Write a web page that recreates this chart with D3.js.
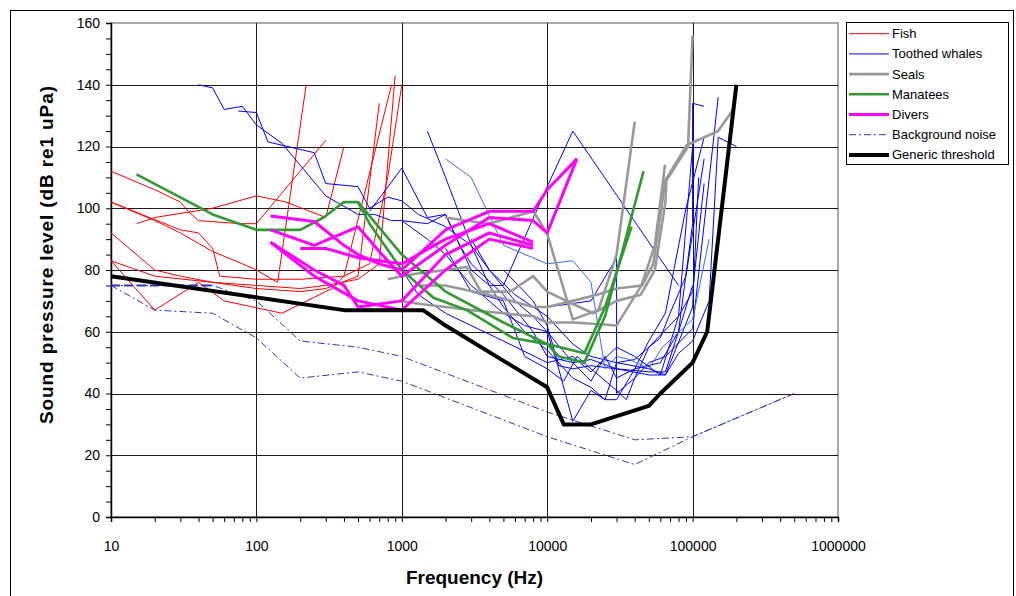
<!DOCTYPE html>
<html>
<head>
<meta charset="utf-8">
<script src="https://cdn.jsdelivr.net/npm/d3@7"></script>
<style>
  html, body { margin: 0; padding: 0; background: #fff; }
  svg { display: block; }
  text { font-family: "Liberation Sans", Arial, Helvetica, sans-serif; }
</style>
</head>
<body>
<svg id="chart" width="1016" height="596"></svg>
<script>
// Hearing thresholds in water: each series is a list of [frequency Hz, level dB re 1 uPa]

const fish = [
  [[10,112],[20,106],[30,102],[34,99],[40,96],[77,95],[100,95],[200,112],[300,122]],
  [[10,102],[30,93],[40,92],[50,87],[56,78],[100,77],[200,77],[400,78],[600,82],[800,110],[1000,140]],
  [[10,92],[20,80],[30,78],[50,76],[100,75],[200,74],[300,75],[500,77],[700,82],[900,143]],
  [[10,83],[20,78],[50,76],[100,74],[200,73],[300,74],[500,78],[700,134]],
  [[10,83],[20,67],[40,76],[60,70],[150,66],[330,74],[400,78],[850,140]],
  [[15,95],[20,97],[50,100],[100,104],[160,102],[300,97],[400,120]],
  [[10,102],[20,96],[30,92],[50,86],[80,82],[100,80],[140,76],[220,140]]
];

const toothedWhales = [
  [[40,140],[50,139],[60,132],[80,133],[100,127],[150,121],[300,104],[500,98],[650,98],[850,96],[1000,96],[1500,95],[2000,98],[2500,88],[3000,82],[5000,72],[8000,60],[10000,52],[15000,50],[20000,51],[30000,48],[50000,47],[65000,47],[80000,60],[100000,95],[100000,134],[120000,133]],
  [[75,131.5],[100,131],[120,121.5],[150,120.4],[250,118],[300,108],[500,107],[600,100],[800,103.6],[1000,102.4],[1300,98],[2000,94],[3000,88],[4000,80],[6000,72],[10000,65],[15000,56],[20000,52],[30000,50],[40000,51],[50000,55],[60000,58],[70000,66],[90000,78],[120000,116]],
  [[600,99],[1000,113],[1500,97],[2000,98],[3000,80],[4000,75],[5000,75],[10000,107],[15000,125],[80000,75]],
  [[1500,125],[2000,110],[3000,88],[4000,75],[5000,68],[7000,60],[10000,54],[15000,45],[20000,42],[25000,38],[30000,38],[40000,48],[60000,50],[80000,60],[100000,75]],
  [[1000,96],[1500,90],[2000,85],[3000,75],[5000,66],[7000,62],[10000,60],[12000,48],[15000,31],[20000,41],[25000,38],[30000,50],[50000,48],[65000,46],[80000,53],[100000,57],[130000,70],[150000,123],[200000,120]],
  [[1000,80],[1300,72],[2000,66],[3000,62],[5000,57],[10000,50],[15000,52],[20000,47],[30000,55],[40000,52],[60000,46],[80000,65],[100000,120]],
  [[3000,90],[4000,80],[6000,70],[8000,65],[10000,60],[15000,50],[20000,44],[25000,52],[30000,45],[40000,48],[50000,57],[65000,66],[90000,100],[120000,123]],
  [[2000,87],[3000,73],[5000,70],[7000,52],[10000,48],[13000,44],[16000,52],[20000,48],[30000,41],[35000,38],[40000,45],[50000,55],[80000,65],[100000,73],[120000,108]],
  [[10000,68],[20000,70],[30000,84],[30000,40],[40000,45],[50000,50],[65000,52],[100000,61],[150000,136]],
  [[5000,80],[8000,70],[10000,62],[12000,49],[15000,48],[20000,49],[30000,48],[50000,46],[65000,46],[100000,68],[110000,110]]
];

const toothedWhalesLight = [
  [[2000,116],[3000,110],[5000,88],[10000,82],[15000,83],[20000,76],[25000,48],[30000,52],[37000,51],[50000,48],[62000,55],[100000,64],[130000,90]]
];

const seals = [
  [[974,70],[1340,69],[2000,68],[3000,67],[5000,66],[8000,65],[10000,63],[15100,63],[22000,62.5],[30000,62],[44500,75],[55000,88],[64600,114]],
  [[1986,97],[3950,95],[8050,99],[9950,92],[15000,64],[22500,67],[30000,85],[40000,128]],
  [[800,77],[1000,78],[1340,79],[2000,80],[2800,81],[3500,73],[5500,73],[6000,74],[8000,78],[10000,73],[15000,69],[20700,66],[30000,70],[44000,72],[55000,80],[65000,102],[66000,109],[93000,120],[100000,156]],
  [[1340,75],[1986,75],[3950,72],[8050,68],[10000,68],[15000,70],[22000,72],[30000,74],[45000,75],[53700,82],[64900,109],[91300,120.5],[150000,125],[190000,132]]
];

const manatees = [
  [[15,111],[50,98],[100,93],[200,93],[290,97],[400,102],[500,102],[1000,85],[2000,73],[5000,63],[10000,56],[18000,53],[25000,68],[38000,94]],
  [[500,102],[600,95],[1000,80],[1650,71],[2800,67],[5800,58],[10000,56],[12000,52],[18000,50],[25000,65],[46000,112]]
];

const divers = [
  [[125,97.5],[250,95.7],[400,88],[500,85],[700,82],[1000,80],[2000,93],[4000,99],[8000,99],[10000,106],[16000,116]],
  [[125,93],[250,88],[500,94],[700,86],[1000,78],[2000,88],[4000,97],[8000,96],[10000,92],[16000,116]],
  [[125,89],[250,80],[400,75],[500,68],[1000,70],[2000,85],[4000,92],[8000,88]],
  [[200,87],[300,87],[500,84],[1000,82],[2000,90],[4000,95],[8000,89]],
  [[125,89],[250,78],[500,70],[1000,67],[2000,80],[4000,90],[8000,87]]
];

const backgroundNoise = [
  [[10,75],[50,75],[100,70],[200,57],[500,55],[1000,52],[10000,34],[40000,25],[100000,26],[500000,40]],
  [[10,75],[20,67],[50,66],[100,58],[200,45],[500,47],[1000,44],[10000,26],[40000,17],[100000,26],[500000,40]]
];
// low-frequency plateau of the noise floor, drawn heavier
const backgroundNoiseLow = [
  [[10,75],[50,75]]
];

const genericThreshold = [
  [[10,78],[400,67],[1400,67],[2000,62],[10000,42],[13000,30],[20000,30],[50000,36],[60000,40],[100000,50],[126000,60],[200000,140]]
];

const yTicks = [0,20,40,60,80,100,120,140,160];
const xTicks = [10,100,1000,10000,100000,1000000];
const legendLabels = ["Fish","Toothed whales","Seals","Manatees","Divers","Background noise","Generic threshold"];

// ---- drawing ----
const svg = d3.select("#chart");
const plot = {left: 111, right: 838, top: 23, bottom: 517};

const x = d3.scaleLog().domain([10, 1000000]).range([plot.left, plot.right]);
const y = d3.scaleLinear().domain([0, 160]).range([plot.bottom, plot.top]);

// outer frame
svg.append("rect").attr("x", 10.5).attr("y", 10.5).attr("width", 1003).attr("height", 600)
  .attr("fill", "none").attr("stroke", "#000").attr("stroke-width", 1);

// plot border
svg.append("rect").attr("x", plot.left).attr("y", plot.top)
  .attr("width", plot.right - plot.left).attr("height", plot.bottom - plot.top)
  .attr("fill", "none").attr("stroke", "#8c8c8c").attr("stroke-width", 1.5);

// gridlines
const grid = svg.append("g").attr("shape-rendering", "crispEdges");
grid.selectAll("line.h").data(yTicks.filter(d => d > 0 && d < 160)).join("line")
  .attr("x1", plot.left).attr("x2", plot.right)
  .attr("y1", d => Math.round(y(d)) + 0.5).attr("y2", d => Math.round(y(d)) + 0.5)
  .attr("stroke", "#1a1a1a").attr("stroke-width", 1);
grid.selectAll("line.v").data(xTicks.filter(d => d > 10 && d < 1000000)).join("line")
  .attr("y1", plot.top).attr("y2", plot.bottom)
  .attr("x1", d => Math.round(x(d)) + 0.5).attr("x2", d => Math.round(x(d)) + 0.5)
  .attr("stroke", "#1a1a1a").attr("stroke-width", 1);

// axes
const minorY = d3.range(0, 161, 5);
const yAxis = d3.axisLeft(y).tickValues(minorY).tickSize(5).tickPadding(6)
  .tickFormat(d => yTicks.includes(d) ? d : "");
const gy = svg.append("g").attr("transform", `translate(${plot.left},0)`).call(yAxis);

const minorX = [];
for (let e = 1; e < 6; e++) for (let m = 1; m < 10; m++) minorX.push(m * Math.pow(10, e));
minorX.push(1000000);
const xAxis = d3.axisBottom(x).tickValues(minorX).tickSize(5).tickPadding(19)
  .tickFormat(d => xTicks.includes(d) ? String(d) : "");
const gx = svg.append("g").attr("transform", `translate(0,${plot.bottom})`).call(xAxis);

[gx, gy].forEach(g => {
  g.select(".domain").attr("stroke", "#000").attr("stroke-width", 1.5);
  g.selectAll(".tick line").attr("stroke", "#000");
  g.selectAll(".tick text").attr("font-size", 14).attr("fill", "#000")
    .attr("font-family", '"Liberation Sans", Arial, sans-serif');
});

// axis titles
svg.append("text").attr("x", (plot.left + plot.right) / 2).attr("y", 584)
  .attr("text-anchor", "middle").attr("font-size", 19).attr("font-weight", "bold")
  .text("Frequency (Hz)");
svg.append("text").attr("transform", "translate(53,255) rotate(-90)")
  .attr("text-anchor", "middle").attr("font-size", 19).attr("font-weight", "bold")
  .attr("textLength", 338).attr("lengthAdjust", "spacing")
  .text("Sound pressure level (dB re1 uPa)");

// series
const line = d3.line().x(d => x(d[0])).y(d => y(d[1]));
const styles = {
  fish: {stroke: "#ff0000", width: 1},
  whale: {stroke: "#0000ff", width: 1},
  whaleLight: {stroke: "#3a6cf5", width: 1},
  seal: {stroke: "#999999", width: 2.6},
  manatee: {stroke: "#339933", width: 2.6},
  diver: {stroke: "#ff00ff", width: 3},
  noise: {stroke: "#3333cc", width: 1, dash: "7,3,2,3"},
  noiseHeavy: {stroke: "#3333cc", width: 2, dash: "9,4"},
  threshold: {stroke: "#000000", width: 4}
};
function drawGroup(data, st) {
  svg.append("g").selectAll("path").data(data).join("path")
    .attr("d", line).attr("fill", "none")
    .attr("stroke", st.stroke).attr("stroke-width", st.width)
    .attr("stroke-linejoin", "round")
    .attr("stroke-dasharray", st.dash || null);
}
drawGroup(fish, styles.fish);
drawGroup(toothedWhales, styles.whale);
drawGroup(toothedWhalesLight, styles.whaleLight);
drawGroup(seals, styles.seal);
drawGroup(manatees, styles.manatee);
drawGroup(divers, styles.diver);
drawGroup(backgroundNoise, styles.noise);
drawGroup(backgroundNoiseLow, styles.noiseHeavy);
drawGroup(genericThreshold, styles.threshold);

// legend
const legendStyles = [styles.fish, styles.whale, styles.seal, styles.manatee, styles.diver, styles.noise, styles.threshold];
const lg = svg.append("g");
lg.append("rect").attr("x", 846.5).attr("y", 22.5).attr("width", 162).attr("height", 142)
  .attr("fill", "#fff").attr("stroke", "#000").attr("stroke-width", 1);
legendLabels.forEach((lab, i) => {
  const yy = 33.7 + i * 20.2;
  const st = legendStyles[i];
  lg.append("line").attr("x1", 849).attr("x2", 889).attr("y1", yy).attr("y2", yy)
    .attr("stroke", st.stroke).attr("stroke-width", st.width)
    .attr("stroke-dasharray", st.dash || null);
  lg.append("text").attr("x", 892).attr("y", yy).attr("dy", "0.35em")
    .attr("font-size", 13).attr("fill", "#000").text(lab);
});
</script>
</body>
</html>
